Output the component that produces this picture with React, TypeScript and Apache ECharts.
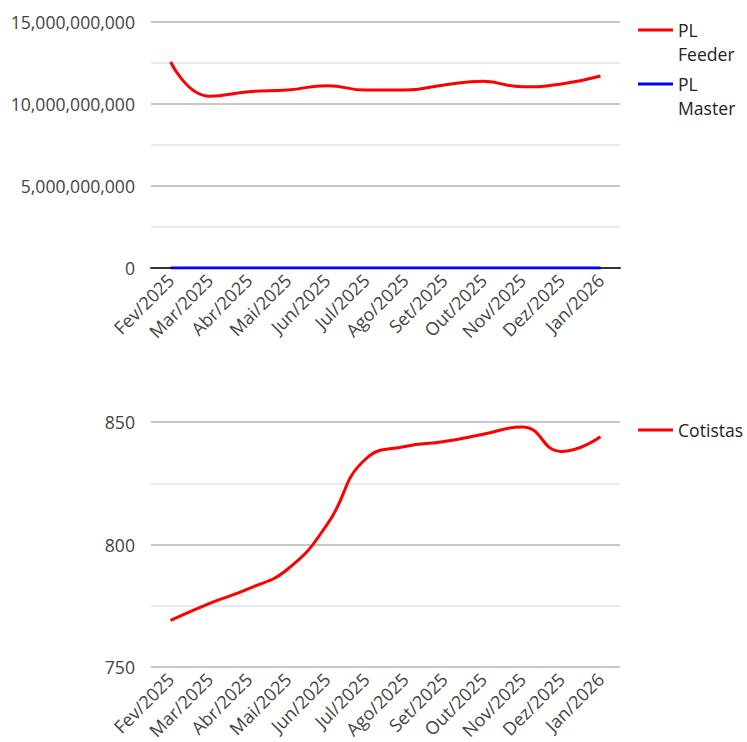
import React, { useEffect, useRef } from 'react';
import * as echarts from 'echarts';

const categories = ['Fev/2025', 'Mar/2025', 'Abr/2025', 'Mai/2025', 'Jun/2025', 'Jul/2025', 'Ago/2025', 'Set/2025', 'Out/2025', 'Nov/2025', 'Dez/2025', 'Jan/2026'];
const plFeeder = [12.56e9, 10.47e9, 10.75e9, 10.85e9, 11.12e9, 10.85e9, 10.85e9, 11.16e9, 11.38e9, 11.05e9, 11.22e9, 11.71e9];
const plMaster = [0, 0, 0, 0, 0, 0, 0, 0, 0, 0, 0, 0];
const cotistas = [769, 776, 782, 790, 808, 835, 840, 842, 845, 848, 838, 844];

const FONT = 'Open Sans';
const AXIS_TEXT = '#444';

export default function App() {
  const ref = useRef<HTMLDivElement>(null);
  useEffect(() => {
    const chart = echarts.init(ref.current!, null, { renderer: 'svg' });
    const xLabel = { rotate: 45, interval: 0, fontSize: 18, color: AXIS_TEXT, fontFamily: FONT, margin: 9 };
    const yCommon = {
      type: 'value' as const,
      axisLine: { show: false },
      axisTick: { show: false },
      splitLine: { show: true, lineStyle: { color: '#c8c8c8', width: 2 } },
      minorTick: { show: false, splitNumber: 2 },
      minorSplitLine: { show: true, lineStyle: { color: '#ebebeb', width: 2 } },
    };
    chart.setOption({
      animation: false,
      textStyle: { fontFamily: FONT },
      grid: [
        { left: 151, top: 22, width: 469, height: 246 },
        { left: 151, top: 422, width: 469, height: 246 },
      ],
      xAxis: [
        {
          gridIndex: 0, type: 'category', data: categories, boundaryGap: true,
          axisLine: { show: true, onZero: true, lineStyle: { color: '#333', width: 2 } },
          axisTick: { show: false }, axisLabel: xLabel, splitLine: { show: false },
        },
        {
          gridIndex: 1, type: 'category', data: categories, boundaryGap: true,
          axisLine: { show: false }, axisTick: { show: false }, axisLabel: xLabel, splitLine: { show: false },
        },
      ],
      yAxis: [
        {
          ...yCommon, gridIndex: 0, min: 0, max: 15e9, interval: 5e9,
          axisLabel: { formatter: (v: number) => v.toLocaleString('en-US'), fontSize: 17.6, color: AXIS_TEXT, fontFamily: FONT, margin: 16 },
        },
        {
          ...yCommon, gridIndex: 1, min: 750, max: 850, interval: 50,
          axisLabel: { fontSize: 17.6, color: AXIS_TEXT, fontFamily: FONT, margin: 16 },
        },
      ],
      legend: [
        {
          data: ['PL Feeder', 'PL Master'], orient: 'vertical', left: 638, top: -6, padding: 0,
          itemWidth: 35, itemHeight: 3, icon: 'rect', itemGap: -18,
          formatter: (n: string) => '\n' + n.replace(' ', '\n'),
          textStyle: { fontSize: 17.6, lineHeight: 24, color: '#222', fontFamily: FONT },
        },
        {
          data: ['Cotistas'], orient: 'vertical', left: 638, top: 418, padding: 0,
          itemWidth: 35, itemHeight: 3, icon: 'rect',
          textStyle: { fontSize: 17.6, lineHeight: 24, color: '#222', fontFamily: FONT },
        },
      ],
      series: [
        { name: 'PL Feeder', type: 'line', xAxisIndex: 0, yAxisIndex: 0, data: plFeeder, smooth: true, symbol: 'none', color: '#ff0000', lineStyle: { width: 3, color: '#ff0000' } },
        { name: 'PL Master', type: 'line', xAxisIndex: 0, yAxisIndex: 0, data: plMaster, smooth: true, symbol: 'none', color: '#0000ff', lineStyle: { width: 3, color: '#0000ff' } },
        { name: 'Cotistas', type: 'line', xAxisIndex: 1, yAxisIndex: 1, data: cotistas, smooth: true, symbol: 'none', color: '#ff0000', lineStyle: { width: 3, color: '#ff0000' } },
      ],
    });
    return () => chart.dispose();
  }, []);
  return <div ref={ref} style={{ position: 'absolute', left: 0, top: 0, width: 747, height: 742 }} />;
}
